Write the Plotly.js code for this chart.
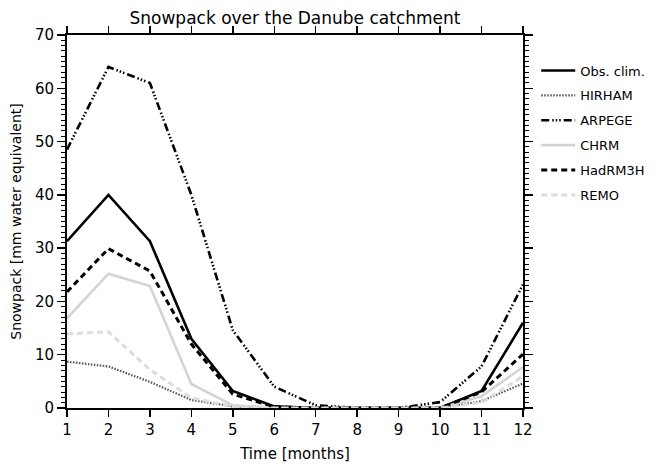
<!DOCTYPE html>
<html><head><meta charset="utf-8">
<script src="https://cdn.plot.ly/plotly-3.0.1.min.js"></script>
<style>body{margin:0;padding:0;background:#fff}#chart{width:659px;height:466px}</style>
</head><body><div id="chart"></div>
<script>
const months = [1,2,3,4,5,6,7,8,9,10,11,12];
const obsClim = [31.3, 40, 31.3, 13, 3.2, 0.3, 0, 0, 0, 0, 3.2, 16];
const hirham  = [8.7, 7.8, 4.9, 1.5, 0.3, 0.1, 0, 0, 0, 0, 1.3, 4.6];
const arpege  = [48.5, 64, 61, 40, 14.6, 4, 0.5, 0, 0, 1.1, 7.8, 23.2];
const chrm    = [16.8, 25.2, 22.9, 4.5, 0.5, 0, 0, 0, 0, 0, 2.2, 7.7];
const hadrm3h = [21.8, 29.9, 25.7, 12, 2.6, 0.2, 0, 0, 0, 0, 3, 10.1];
const remo    = [13.9, 14.3, 7.2, 1.9, 0.3, 0, 0, 0, 0, 0, 1, 6];
const seriesNames = ['Obs. clim.', 'HIRHAM', 'ARPEGE', 'CHRM', 'HadRM3H', 'REMO'];
const seriesData = [obsClim, hirham, arpege, chrm, hadrm3h, remo];
const styles = [
  {color:'#000000', width:2.6, dash:'solid'},
  {color:'#555555', width:2.2, dash:'1.5px,1.5px'},
  {color:'#000000', width:2.6, dash:'8px,3px,1.5px,2px,1.5px,2px,1.5px,3px'},
  {color:'#d4d4d4', width:2.6, dash:'solid'},
  {color:'#000000', width:3, dash:'6px,4px'},
  {color:'#dcdcdc', width:3, dash:'6px,4px'}
];
const traces = seriesNames.map((n,i)=>({
  x: months, y: seriesData[i], name: n, type:'scatter', mode:'lines',
  line: styles[i], legendgroup: 'g'+i
}));
const font = {family:'DejaVu Sans, sans-serif', color:'#000'};
const layout = {
  width:659, height:466,
  margin:{l:67, r:136, t:35, b:58, autoexpand:false},
  paper_bgcolor:'#fff', plot_bgcolor:'#fff',
  font: font,
  title:{text:'Snowpack over the Danube catchment', x:0.5, xref:'paper', y:0.962, yanchor:'middle',
    font:{family:'DejaVu Sans, sans-serif', size:17, color:'#000'}},
  xaxis:{range:[1,12], tickmode:'array', tickvals:months, ticktext:months.map(String),
    showgrid:false, zeroline:false, showline:true, linecolor:'#000', linewidth:2,
    mirror:'ticks', ticks:'outside', ticklen:7, tickwidth:1.5, tickcolor:'#000',
    tickfont:{size:15, color:'#000'},
    title:{text:'Time [months]', font:{size:15, color:'#000'}, standoff:10}},
  yaxis:{range:[0,70], dtick:10, showgrid:false, zeroline:false, showline:true, linecolor:'#000', linewidth:2,
    mirror:'ticks', ticks:'outside', ticklen:8, tickwidth:1.5, tickcolor:'#000',
    minor:{dtick:1, ticks:'outside', ticklen:4, tickwidth:1, tickcolor:'#000'},
    tickfont:{size:15, color:'#000'},
    title:{text:'Snowpack [mm water equivalent]', font:{size:14, color:'#000'}, standoff:10}},
  showlegend:true,
  legend:{x:1.029, xanchor:'left', y:0.945, yanchor:'top', bgcolor:'rgba(0,0,0,0)',
    font:{size:13, color:'#000'}, tracegroupgap:5, itemwidth:34}
};
Plotly.newPlot('chart', traces, layout, {staticPlot:true});
</script></body></html>
